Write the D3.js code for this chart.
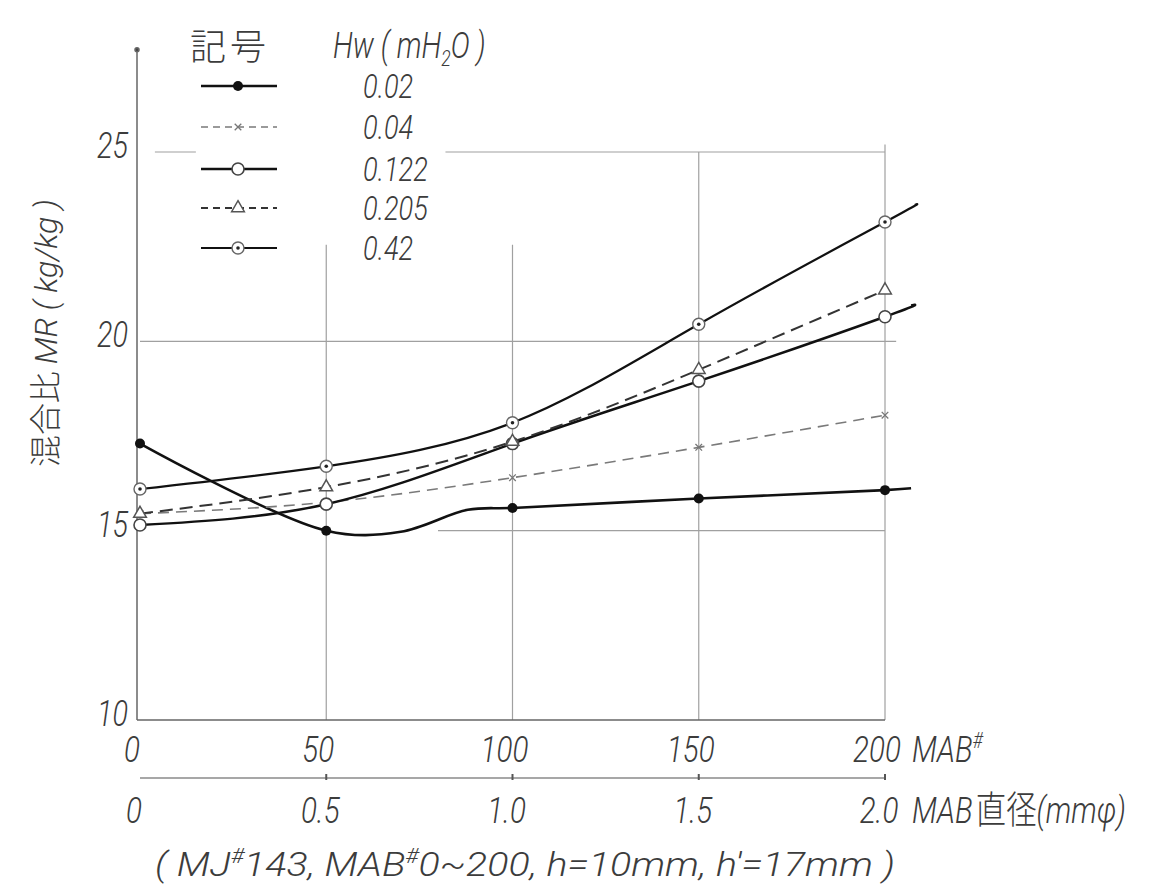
<!DOCTYPE html>
<html>
<head>
<meta charset="utf-8">
<script src="https://cdn.jsdelivr.net/npm/d3@7"></script>
<style>
  body { margin: 0; background: #fff; }
  svg text { fill: #3c3c3c; }
  .num { font-family: Roboto, "DejaVu Sans", sans-serif; font-style: italic; font-weight: 300; }
  .cjk { font-family: "Noto Sans CJK JP", sans-serif; font-style: normal; font-weight: 300; }
</style>
</head>
<body>
<div id="chart"></div>
<script>
// values
const mabTicks = [0, 50, 100, 150, 200];
const diaTicks = ['0', '0.5', '1.0', '1.5', '2.0'];
const yTicks = [10, 15, 20, 25];
const mab = [0, 50, 100, 150, 200];

const hwLabels = ['0.02', '0.04', '0.122', '0.205', '0.42'];
const mr002 = [17.3, 15.0, 15.6, 15.85, 16.07];
const mr004 = [15.45, 15.75, 16.4, 17.2, 18.05];
const mr0122 = [15.15, 15.7, 17.3, 18.95, 20.65];
const mr0205 = [15.45, 16.15, 17.35, 19.25, 21.35];
const mr042 = [16.1, 16.7, 17.85, 20.45, 23.15];

// extra points of the hand-drawn curves (no marker)
const bend002 = [[70, 14.97], [88, 15.55], [207, 16.12]];
const bend0122 = [[207, 20.95]];
const bend042 = [[208, 23.6]];

const width = 1172, height = 885;
const squeeze = 0.8;   // the printed digits are narrow

const svg = d3.select('#chart').append('svg')
    .attr('width', width)
    .attr('height', height);

const x = d3.scaleLinear().domain([0, 200]).range([140, 885]);
const y = d3.scaleLinear().domain([10, 25]).range([720, 152]);
const xDia = d3.scaleLinear().domain([0, 2]).range([140, 885]);

// narrow italic text placed at (px, py)
function label(parent, px, py, size, anchor) {
    return parent.append('g')
        .attr('transform', `translate(${px},${py}) scale(${squeeze},1)`)
        .append('text')
        .attr('class', 'num')
        .attr('text-anchor', anchor || 'start')
        .attr('font-size', size);
}

// grid
const grid = svg.append('g').attr('stroke', '#a0a0a0').attr('stroke-width', 1.2);
grid.append('line').attr('x1', x(0)).attr('x2', x(203)).attr('y1', y(20)).attr('y2', y(20));
grid.append('line').attr('x1', x(80)).attr('x2', x(200)).attr('y1', y(15)).attr('y2', y(15));
grid.append('line').attr('x1', x(4)).attr('x2', x(15)).attr('y1', y(25)).attr('y2', y(25));
grid.append('line').attr('x1', x(82)).attr('x2', x(200)).attr('y1', y(25)).attr('y2', y(25));
[[50, 22.55], [100, 22.55], [150, 25], [200, 25.2]].forEach(([m, top]) => {
    grid.append('line').attr('x1', x(m)).attr('x2', x(m)).attr('y1', y(10)).attr('y2', y(top));
});

// axes
const ax = svg.append('g').attr('stroke', '#666').attr('stroke-width', 1.5);
ax.append('line').attr('x1', x(0) - 3).attr('x2', x(0) - 3).attr('y1', y(10)).attr('y2', y(27.7));
ax.append('line').attr('x1', x(0) - 3).attr('x2', x(200)).attr('y1', y(10)).attr('y2', y(10));
ax.append('circle').attr('cx', x(0) - 3).attr('cy', y(27.7)).attr('r', 2).attr('fill', '#444');

// second axis (diameter)
const dia = svg.append('g').attr('transform', 'translate(0,778)');
dia.append('line').attr('x1', xDia(0)).attr('x2', xDia(2))
    .attr('stroke', '#8a8a8a').attr('stroke-width', 1.3);
dia.selectAll('.tk').data(diaTicks.slice(1)).enter().append('line')
    .attr('x1', d => xDia(+d)).attr('x2', d => xDia(+d))
    .attr('y1', -4).attr('y2', 2)
    .attr('stroke', '#555').attr('stroke-width', 2);

// tick labels
yTicks.forEach(d => label(svg, 128, y(d) + 6, 36, 'end').text(d));
mabTicks.forEach(d => label(svg, x(d) - 8, 762, 37, 'middle').text(d));
diaTicks.forEach(d => label(svg, xDia(+d) - 6, 823, 37, 'middle').text(d));

const mabT = label(svg, 912, 762, 37);
mabT.append('tspan').text('MAB');
mabT.append('tspan').attr('dy', -14).attr('font-size', 22).text('#');

const diaT = label(svg, 912, 823, 37);
diaT.append('tspan').text('MAB');
diaT.append('tspan').attr('class', 'cjk').attr('font-size', 38).attr('dx', 4).text('直径');
diaT.append('tspan').text('(mmφ)');

const cap = svg.append('text').attr('class', 'num')
    .attr('x', 155).attr('y', 876).attr('font-size', 34)
    .attr('textLength', 740).attr('lengthAdjust', 'spacingAndGlyphs');
cap.append('tspan').text('( MJ');
cap.append('tspan').attr('dy', -13).attr('font-size', 20).text('#');
cap.append('tspan').attr('dy', 13).text('143, MAB');
cap.append('tspan').attr('dy', -13).attr('font-size', 20).text('#');
cap.append('tspan').attr('dy', 13).text('0~200, h=10mm, h′=17mm )');

// y title
const yt = svg.append('text')
    .attr('transform', 'translate(57,333) rotate(-90)')
    .attr('text-anchor', 'middle')
    .attr('font-size', 32)
    .attr('textLength', 268).attr('lengthAdjust', 'spacing');
yt.append('tspan').attr('class', 'cjk').attr('font-size', 32).text('混合比 ');
yt.append('tspan').attr('class', 'num').text('MR ( kg/kg )');

// series
const series = [
    { label: hwLabels[0], vals: mr002, bend: bend002, dash: null, width: 2.6, color: '#111', mark: 'dot', curve: d3.curveCatmullRom.alpha(0.5) },
    { label: hwLabels[1], vals: mr004, bend: [], dash: '11,7', width: 1.6, color: '#7a7a7a', mark: 'x', curve: d3.curveNatural },
    { label: hwLabels[2], vals: mr0122, bend: bend0122, dash: null, width: 2.5, color: '#111', mark: 'open', curve: d3.curveNatural },
    { label: hwLabels[3], vals: mr0205, bend: [], dash: '13,7', width: 2.0, color: '#333', mark: 'tri', curve: d3.curveNatural },
    { label: hwLabels[4], vals: mr042, bend: bend042, dash: null, width: 2.2, color: '#111', mark: 'target', curve: d3.curveNatural }
];

function drawMarker(g, kind, cx, cy) {
    if (kind === 'dot') {
        g.append('circle').attr('cx', cx).attr('cy', cy).attr('r', 5).attr('fill', '#111');
    } else if (kind === 'open') {
        g.append('circle').attr('cx', cx).attr('cy', cy).attr('r', 6)
            .attr('fill', '#fff').attr('stroke', '#444').attr('stroke-width', 1.6);
    } else if (kind === 'target') {
        g.append('circle').attr('cx', cx).attr('cy', cy).attr('r', 6)
            .attr('fill', '#fff').attr('stroke', '#666').attr('stroke-width', 1.4);
        g.append('circle').attr('cx', cx).attr('cy', cy).attr('r', 1.8).attr('fill', '#222');
    } else if (kind === 'tri') {
        g.append('path')
            .attr('d', d3.symbol(d3.symbolTriangle, 70)())
            .attr('transform', `translate(${cx},${cy})`)
            .attr('fill', '#fff').attr('stroke', '#555').attr('stroke-width', 1.5);
    } else if (kind === 'x') {
        g.append('path')
            .attr('d', d3.symbol(d3.symbolX, 30)())
            .attr('transform', `translate(${cx},${cy})`)
            .attr('fill', 'none').attr('stroke', '#777').attr('stroke-width', 1.3);
    }
}

const plot = svg.append('g');
series.forEach(s => {
    const pts = mab.map((m, i) => [m, s.vals[i]]).concat(s.bend)
        .sort((a, b) => a[0] - b[0]);
    const line = d3.line()
        .x(d => x(d[0]))
        .y(d => y(d[1]))
        .curve(s.curve);
    plot.append('path')
        .datum(pts)
        .attr('d', line)
        .attr('fill', 'none')
        .attr('stroke', s.color)
        .attr('stroke-width', s.width)
        .attr('stroke-dasharray', s.dash);
});
series.forEach(s => {
    mab.forEach((m, i) => drawMarker(plot, s.mark, x(m), y(s.vals[i])));
});

// legend
const legend = svg.append('g');
legend.append('text').attr('class', 'cjk').attr('x', 190).attr('y', 60)
    .attr('font-size', 36).attr('letter-spacing', 4).text('記号');
const hw = label(legend, 333, 58, 36);
hw.append('tspan').text('Hw ( mH');
hw.append('tspan').attr('dy', 8).attr('font-size', 22).text('2');
hw.append('tspan').attr('dy', -8).text('O )');

const rowY = [86, 127, 169, 208, 248];
series.forEach((s, i) => {
    const ry = rowY[i];
    legend.append('line')
        .attr('x1', 201).attr('x2', 277).attr('y1', ry).attr('y2', ry)
        .attr('stroke', s.color).attr('stroke-width', s.width)
        .attr('stroke-dasharray', s.dash ? '7,5' : null);
    drawMarker(legend, s.mark, 238, ry);
    label(legend, 363, ry + 12, 34).text(s.label);
});
</script>
</body>
</html>
